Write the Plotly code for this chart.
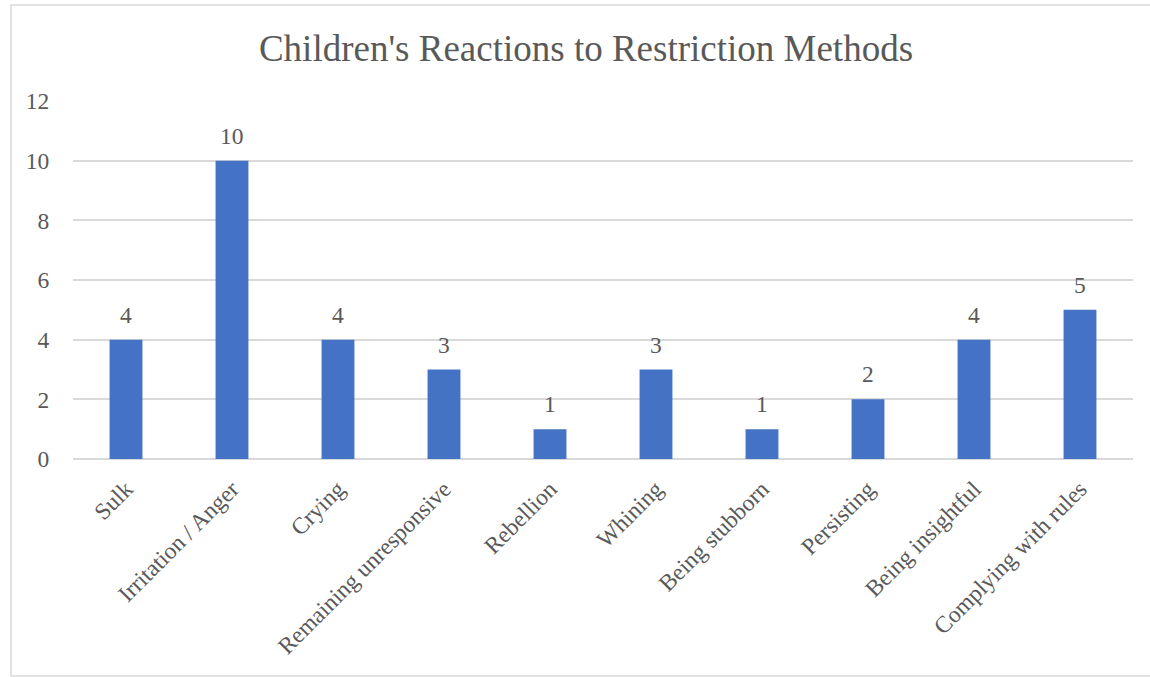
import plotly.graph_objects as go

# Reactions and how many children showed each one
categories = [
    "Sulk", "Irritation / Anger", "Crying", "Remaining unresponsive",
    "Rebellion", "Whining", "Being stubborn", "Persisting",
    "Being insightful", "Complying with rules",
]
counts = [4, 10, 4, 3, 1, 3, 1, 2, 4, 5]
y_ticks = [0, 2, 4, 6, 8, 10, 12]

W, H = 1150, 677
L, R, T, B = 73, 17, 101, 218
plot_w = W - L - R
plot_h = H - T - B

TEXT = "#595959"
GRID = "#d9d9d9"
FONT = "Liberation Serif, Times New Roman, serif"
FS = 23.5

fig = go.Figure(
    go.Bar(
        x=categories,
        y=counts,
        marker=dict(color="#4472C4", line=dict(width=0)),
        hoverinfo="x+y",
    )
)

# value labels above each bar
for c, v in zip(categories, counts):
    fig.add_annotation(
        x=c, y=v, text=str(v), showarrow=False,
        yanchor="middle", yshift=25,
        font=dict(family=FONT, size=FS, color=TEXT),
    )

# light outer border of the chart area
px = lambda p: (p - L) / plot_w
py = lambda p: (H - B - p) / plot_h
fig.add_shape(
    type="rect", xref="paper", yref="paper",
    x0=px(11), x1=px(1160), y0=py(676), y1=py(5),
    line=dict(color=GRID, width=1.5), layer="below",
)

fig.update_layout(
    width=W, height=H,
    margin=dict(l=L, r=R, t=T, b=B),
    paper_bgcolor="white", plot_bgcolor="white",
    bargap=0.69,
    showlegend=False,
    font=dict(family=FONT, color=TEXT),
    title=dict(
        text="Children's Reactions to Restriction Methods",
        x=586 / W, xref="container", xanchor="center",
        y=1 - 48 / H, yref="container", yanchor="middle",
        font=dict(family=FONT, size=37, color=TEXT),
    ),
    xaxis=dict(
        tickangle=-45,
        tickfont=dict(family=FONT, size=FS, color=TEXT),
        showgrid=False, showline=False, zeroline=False,
        ticks="outside", ticklen=6, tickcolor="rgba(0,0,0,0)",
    ),
    yaxis=dict(
        range=[0, 12], tickvals=y_ticks,
        tickfont=dict(family=FONT, size=FS, color=TEXT),
        showgrid=True, gridcolor=GRID, gridwidth=1.5,
        zeroline=True, zerolinecolor=GRID, zerolinewidth=1.8,
        showline=False,
        ticks="outside", ticklen=18, tickcolor="rgba(0,0,0,0)",
    ),
)

fig.write_html("out.html")
